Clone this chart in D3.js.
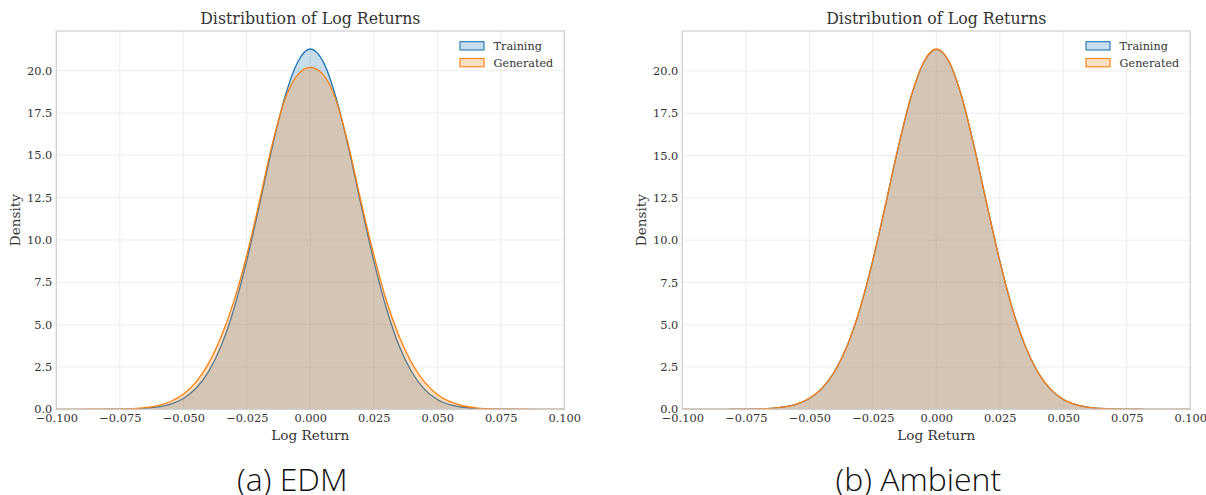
<!DOCTYPE html>
<html>
<head>
<meta charset="utf-8">
<script src="https://cdn.jsdelivr.net/npm/d3@7"></script>
<style>
  html, body { margin: 0; padding: 0; background: #ffffff; }
  svg { display: block; }
  .tick text { font-family: "DejaVu Serif", serif; }
</style>
</head>
<body>
<svg id="fig" width="1206" height="495"></svg>
<script>
// Evaluation grid for the density estimates (log return)
const logReturn = [
  -0.100, -0.095, -0.090, -0.085, -0.080, -0.075, -0.070, -0.065, -0.060, -0.055,
  -0.050, -0.045, -0.040, -0.035, -0.030, -0.025, -0.020, -0.015, -0.010, -0.005,
   0.000,
   0.005,  0.010,  0.015,  0.020,  0.025,  0.030,  0.035,  0.040,  0.045,  0.050,
   0.055,  0.060,  0.065,  0.070,  0.075,  0.080,  0.085,  0.090,  0.095,  0.100
];

// Density of the training log returns
const trainingDensity = [
  0, 0, 0, 0, 0.003, 0.010, 0.025, 0.060, 0.140, 0.300,
  0.640, 1.240, 2.240, 3.780, 5.970, 8.800, 12.08, 15.47, 18.45, 20.50,
  21.28,
  20.55, 18.48, 15.48, 12.06, 8.770, 5.940, 3.740, 2.190, 1.180, 0.580,
  0.270, 0.120, 0.050, 0.020, 0.007, 0.002, 0, 0, 0, 0
];

// Density of the log returns generated by EDM
const edmGeneratedDensity = [
  0, 0, 0.001, 0.003, 0.006, 0.016, 0.040, 0.100, 0.220, 0.460,
  0.890, 1.610, 2.730, 4.330, 6.420, 9.100, 12.30, 15.65, 18.30, 19.75,
  20.20,
  19.78, 18.32, 15.62, 12.25, 9.120, 6.400, 4.300, 2.720, 1.600, 0.880,
  0.450, 0.210, 0.090, 0.035, 0.013, 0.005, 0.002, 0, 0, 0
];

// Density of the log returns generated by the Ambient model
const ambientGeneratedDensity = [
  0, 0, 0, 0, 0.003, 0.010, 0.026, 0.060, 0.140, 0.310,
  0.650, 1.250, 2.250, 3.790, 5.980, 8.810, 12.10, 15.50, 18.47, 20.52,
  21.30,
  20.56, 18.49, 15.46, 12.05, 8.760, 5.930, 3.750, 2.200, 1.190, 0.590,
  0.280, 0.120, 0.050, 0.020, 0.008, 0.002, 0, 0, 0, 0
];

const xTicks = [-0.100, -0.075, -0.050, -0.025, 0.000, 0.025, 0.050, 0.075, 0.100];
const yTicks = [0.0, 2.5, 5.0, 7.5, 10.0, 12.5, 15.0, 17.5, 20.0];
const seriesNames = ["Training", "Generated"];
const seriesColors = ["#1f77b4", "#ff7f0e"];
const panelTitle = "Distribution of Log Returns";
const xLabel = "Log Return";
const yLabel = "Density";
const captions = ["(a) EDM", "(b) Ambient"];

const svg = d3.select("#fig");
svg.append("rect").attr("width", 1206).attr("height", 495).attr("fill", "#ffffff");

const serif = "'DejaVu Serif', serif";
const fmtTick = d3.format(".3f");
const fmtY = d3.format(".1f");
const minus = s => s.replace("-", "\u2212");

function drawPanel(left, caption, curves) {
  const top = 31, width = 508, height = 378.3;
  const g = svg.append("g").attr("transform", `translate(${left},${top})`);

  const yMax = d3.max(curves, c => d3.max(c)) * 1.05;
  const x = d3.scaleLinear().domain([-0.1, 0.1]).range([0, width]);
  const y = d3.scaleLinear().domain([0, yMax]).range([height, 0]);

  // grid
  g.append("g").selectAll("line").data(xTicks).join("line")
    .attr("x1", d => x(d)).attr("x2", d => x(d))
    .attr("y1", 0).attr("y2", height)
    .attr("stroke", "#ebebeb").attr("stroke-width", 0.9);
  g.append("g").selectAll("line").data(yTicks).join("line")
    .attr("x1", 0).attr("x2", width)
    .attr("y1", d => y(d)).attr("y2", d => y(d))
    .attr("stroke", "#ebebeb").attr("stroke-width", 0.9);

  const pts = curves.map(c => logReturn.map((v, i) => [v, c[i]]));
  const area = d3.area().x(d => x(d[0])).y0(y(0)).y1(d => y(d[1])).curve(d3.curveMonotoneX);
  const line = d3.line().x(d => x(d[0])).y(d => y(d[1])).curve(d3.curveMonotoneX);

  pts.forEach((p, i) => {
    g.append("path").attr("d", area(p))
      .attr("fill", seriesColors[i]).attr("fill-opacity", 0.25);
    g.append("path").attr("d", line(p))
      .attr("fill", "none").attr("stroke", seriesColors[i]).attr("stroke-width", 1.3);
  });

  // spines
  g.append("rect").attr("x", 0).attr("y", 0).attr("width", width).attr("height", height)
    .attr("fill", "none").attr("stroke", "#d0d0d0").attr("stroke-width", 1.25);

  // axes
  const xAxis = d3.axisBottom(x).tickValues(xTicks).tickSize(0).tickPadding(5)
    .tickFormat(d => minus(fmtTick(d)));
  const gx = g.append("g").attr("transform", `translate(0,${height})`).call(xAxis);
  gx.select(".domain").remove();
  gx.selectAll("text").attr("font-size", 11.4).attr("fill", "#333333").attr("font-family", serif);

  const yAxis = d3.axisLeft(y).tickValues(yTicks).tickSize(0).tickPadding(4)
    .tickFormat(d => fmtY(d));
  const gy = g.append("g").call(yAxis);
  gy.select(".domain").remove();
  gy.selectAll("text").attr("font-size", 11.4).attr("fill", "#333333").attr("font-family", serif);

  // title and labels
  g.append("text").attr("x", width / 2).attr("y", -7.5).attr("text-anchor", "middle")
    .attr("font-family", serif).attr("font-size", 15.8).attr("fill", "#333333").text(panelTitle);
  g.append("text").attr("x", width / 2).attr("y", height + 30.5).attr("text-anchor", "middle")
    .attr("font-family", serif).attr("font-size", 13.6).attr("fill", "#333333").text(xLabel);
  g.append("text").attr("transform", `translate(-36,${height / 2}) rotate(-90)`)
    .attr("text-anchor", "middle")
    .attr("font-family", serif).attr("font-size", 13.6).attr("fill", "#333333").text(yLabel);

  // legend
  const lg = g.append("g").attr("transform", `translate(${width - 104.3},10.7)`);
  seriesNames.forEach((name, i) => {
    const row = lg.append("g").attr("transform", `translate(0,${i * 16.8})`);
    row.append("rect").attr("x", 0).attr("y", 0).attr("width", 24).attr("height", 8.3)
      .attr("fill", seriesColors[i]).attr("fill-opacity", 0.25)
      .attr("stroke", seriesColors[i]).attr("stroke-width", 1.1);
    row.append("text").attr("x", 33.6).attr("y", 8.3)
      .attr("font-family", serif).attr("font-size", 11.2).attr("fill", "#333333").text(name);
  });

  // caption under the panel
  svg.append("text").attr("x", left + width / 2 - 18).attr("y", 490.5)
    .attr("text-anchor", "middle").attr("font-family", "'Open Sans', 'Noto Sans', sans-serif")
    .attr("font-weight", 300)
    .attr("font-size", 32).attr("fill", "#111111").text(caption);
}

drawPanel(56.3, captions[0], [trainingDensity, edmGeneratedDensity]);
drawPanel(682.3, captions[1], [trainingDensity, ambientGeneratedDensity]);
</script>
</body>
</html>
